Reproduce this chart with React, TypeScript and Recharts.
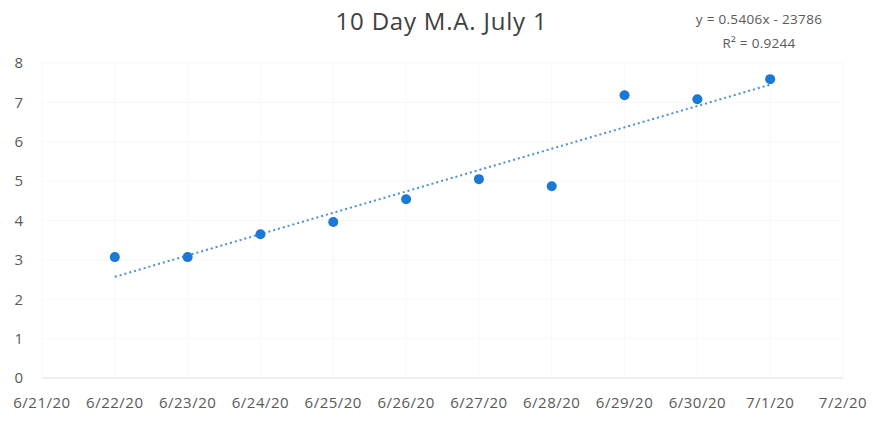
import React from 'react';
import { ScatterChart, Scatter, XAxis, YAxis, CartesianGrid } from 'recharts';

const dateLabels = ['6/21/20', '6/22/20', '6/23/20', '6/24/20', '6/25/20', '6/26/20', '6/27/20', '6/28/20', '6/29/20', '6/30/20', '7/1/20', '7/2/20'];
const dayIndex = [1, 2, 3, 4, 5, 6, 7, 8, 9, 10];
const movingAvg = [3.07, 3.07, 3.65, 3.96, 4.54, 5.05, 4.87, 7.18, 7.08, 7.59];
const trendDays = [1, 10];
const trendValues = [2.57, 7.45];
const yTicks = [0, 1, 2, 3, 4, 5, 6, 7, 8];

const points = dayIndex.map((d, i) => ({ x: d, y: movingAvg[i] }));
const trend = trendDays.map((d, i) => ({ x: d, y: trendValues[i] }));

const font = '"Open Sans", "Liberation Sans", sans-serif';

export default function App() {
  return (
    <div style={{ position: 'absolute', left: 0, top: 0, width: 873, height: 424, background: '#fff', fontFamily: font }}>
      <div style={{ position: 'absolute', left: 0, width: 883, top: 4, textAlign: 'center', fontSize: 24, letterSpacing: 0.8, color: '#404040' }}>
        10 Day M.A. July 1
      </div>
      <div style={{ position: 'absolute', left: 674, width: 170, top: 7, textAlign: 'center', fontSize: 13.5, lineHeight: '24px', letterSpacing: 0.3, color: '#595959' }}>
        <div>y = 0.5406x - 23786</div>
        <div>R² = 0.9244</div>
      </div>
      <ScatterChart width={873} height={424} margin={{ top: 63, right: 30, bottom: 0, left: 0 }}>
        <CartesianGrid stroke="#f8f8f8" />
        <XAxis
          type="number"
          dataKey="x"
          domain={[0, 11]}
          ticks={dateLabels.map((_, i) => i)}
          tickFormatter={(v: number) => dateLabels[v]}
          interval={0}
          height={46}
          tickLine={false}
          axisLine={{ stroke: '#e3e3e3' }}
          tickMargin={13}
          tick={{ fill: '#595959', fontSize: 15, letterSpacing: 0.5, fontFamily: font }}
        />
        <YAxis
          type="number"
          dataKey="y"
          domain={[0, 8]}
          ticks={yTicks}
          width={42}
          tickLine={false}
          axisLine={false}
          tickMargin={13}
          tick={{ fill: '#595959', fontSize: 15, fontFamily: font }}
        />
        <Scatter
          data={trend}
          isAnimationActive={false}
          line={{ stroke: '#4a8fd8', strokeWidth: 2, strokeDasharray: '2 3' }}
          shape={() => <g />}
        />
        <Scatter data={points} fill="#1a78d6" isAnimationActive={false} shape={(p: any) => <circle cx={p.cx} cy={p.cy} r={5} fill="#1a78d6" />} />
      </ScatterChart>
    </div>
  );
}
